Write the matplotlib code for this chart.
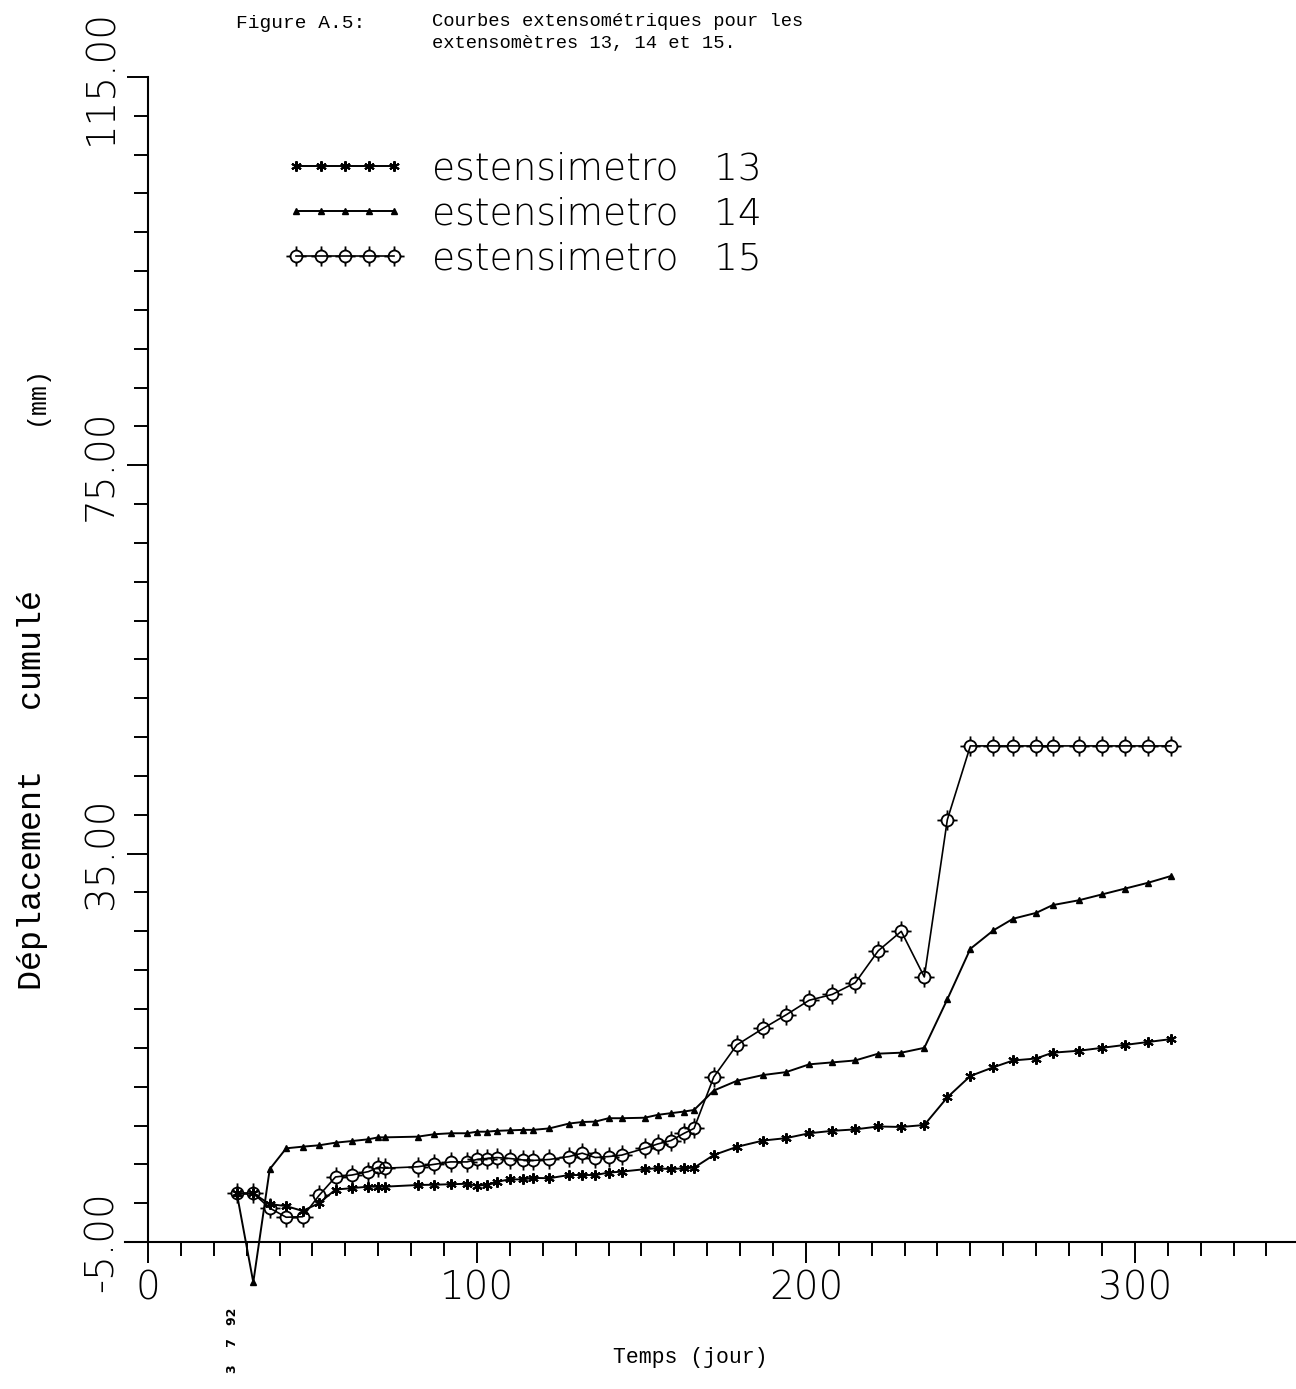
import numpy as np
import matplotlib
matplotlib.use('Agg')
import matplotlib.pyplot as plt
from matplotlib.path import Path
from matplotlib.ticker import FixedLocator

# time of each reading (days) -- same for the three extensometers
days = [27, 32, 37, 42, 47, 52, 57, 62, 67, 70, 72, 82, 87, 92, 97, 100,
        103, 106, 110, 114, 117, 122, 128, 132, 136, 140, 144, 151, 155, 159,
        163, 166, 172, 179, 187, 194, 201, 208, 215, 222, 229, 236, 243, 250,
        257, 263, 270, 275, 283, 290, 297, 304, 311]

ext13 = [0, 0, -1.1, -1.3, -1.8, -1.0, 0.4, 0.55, 0.7, 0.7, 0.7, 0.87, 0.9,
         0.95, 1.0, 0.8, 0.9, 1.2, 1.45, 1.45, 1.6, 1.57, 1.9, 1.9, 1.9, 2.15,
         2.25, 2.5, 2.6, 2.5, 2.6, 2.65, 3.96, 4.8, 5.45, 5.7, 6.2, 6.45, 6.6,
         6.9, 6.85, 7.05, 9.9, 12.1, 13.0, 13.7, 13.9, 14.5, 14.7, 15.0, 15.3,
         15.6, 15.9]

ext14 = [0, -9.15, 2.5, 4.65, 4.82, 4.96, 5.23, 5.4, 5.58, 5.78, 5.78, 5.85,
         6.1, 6.2, 6.2, 6.36, 6.36, 6.45, 6.5, 6.55, 6.55, 6.7, 7.2, 7.36, 7.4,
         7.75, 7.75, 7.8, 8.1, 8.27, 8.44, 8.6, 10.6, 11.6, 12.2, 12.5, 13.3,
         13.5, 13.7, 14.4, 14.5, 15.0, 20.0, 25.2, 27.1, 28.3, 28.9, 29.7, 30.2,
         30.8, 31.4, 32.0, 32.7]

ext15 = [0, 0, -1.5, -2.45, -2.4, -0.2, 1.7, 1.9, 2.25, 2.7, 2.6, 2.75, 3.0,
         3.25, 3.25, 3.5, 3.6, 3.7, 3.6, 3.45, 3.4, 3.5, 3.8, 4.15, 3.7, 3.8,
         3.95, 4.65, 5.1, 5.45, 6.2, 6.7, 12.0, 15.3, 17.0, 18.4, 19.9, 20.5,
         21.7, 25.0, 27.0, 22.3, 38.5, 46.1, 46.1, 46.1, 46.1, 46.1, 46.1, 46.1,
         46.1, 46.1, 46.1]

series_labels = ['estensimetro   13', 'estensimetro   14', 'estensimetro   15']
x_ticks = [0, 100, 200, 300]
y_ticks = [-5, 35, 75, 115]
y_ticklabels = ['-5.00', '35.00', '75.00', '115.00']

thin = dict(family=['DejaVu Sans'], weight=200)
mono = dict(family=['Liberation Mono', 'DejaVu Sans Mono'])

# circle with four little spikes
circ = Path.make_compound_path(
    Path.unit_circle(),
    Path([[0, 1], [0, 1.7]]), Path([[0, -1], [0, -1.7]]),
    Path([[1, 0], [1.7, 0]]), Path([[-1, 0], [-1.7, 0]]))

fig = plt.figure(figsize=(12.96, 13.89), dpi=100)
ax = fig.add_axes([125/1296, 147/1389, 1171/1296, 1165/1389])
ax.set_xlim(-7, 349)
ax.set_ylim(-5, 115)
ax.spines['left'].set_position(('data', 0))
ax.spines['top'].set_visible(False)
ax.spines['right'].set_visible(False)
for s in ['left', 'bottom']:
    ax.spines[s].set_linewidth(1.5)

l13, = ax.plot(days, ext13, color='black', lw=1.4, marker=(6, 2, 0), ms=7.5,
               mew=1.5, clip_on=False, label=series_labels[0])
l14, = ax.plot(days, ext14, color='black', lw=1.4, marker='^', ms=4.5,
               clip_on=False, label=series_labels[1])
l15, = ax.plot(days, ext15, color='black', lw=1.2, marker=circ, ms=14.5,
               mfc='none', mew=1.3, clip_on=False, label=series_labels[2])

ax.xaxis.set_major_locator(FixedLocator(x_ticks))
ax.xaxis.set_minor_locator(FixedLocator(np.arange(0, 349, 10)))
ax.yaxis.set_major_locator(FixedLocator(y_ticks))
ax.yaxis.set_minor_locator(FixedLocator(np.arange(-5, 116, 4)))
ax.tick_params(which='major', direction='out', length=15, width=1.4, pad=5)
ax.tick_params(which='minor', direction='out', length=10, width=1.4)
ax.set_xticklabels([str(t) for t in x_ticks], fontsize=28, **thin)
ax.set_yticklabels(y_ticklabels, fontsize=28, rotation=90, va='center', **thin)

leg = ax.legend(handles=[l13, l14, l15], numpoints=5, frameon=False,
                loc='upper left', bbox_to_anchor=(285/1296, 1 - 151/1389),
                bbox_transform=fig.transFigure, borderpad=0, borderaxespad=0,
                handlelength=3.2, handletextpad=0.72, labelspacing=0.27,
                prop=dict(size=27, **thin))

fig.text(236/1296, 1 - 23/1389, 'Figure A.5:', fontsize=14, va='center', **mono)
fig.text(432/1296, 1 - 13/1389,
         'Courbes extensométriques pour les\nextensomètres 13, 14 et 15.',
         fontsize=13.5, va='top', linespacing=1.35, **mono)

fig.text(690/1296, 1 - 1357/1389, 'Temps (jour)', fontsize=15.5, ha='center',
         va='center', **mono)
fig.text(33/1296, 1 - 790/1389, 'Déplacement   cumulé', fontsize=24,
         rotation=90, ha='center', va='center', **mono)
fig.text(36/1296, 1 - 395/1389, '(mm)', fontsize=18, rotation=90,
         ha='center', va='center', **mono)
fig.text(232/1296, 1 - 1340/1389, '3    7   92', fontsize=9, weight='bold',
         rotation=90, ha='center', va='center')

fig.savefig('out.png', dpi=100)
